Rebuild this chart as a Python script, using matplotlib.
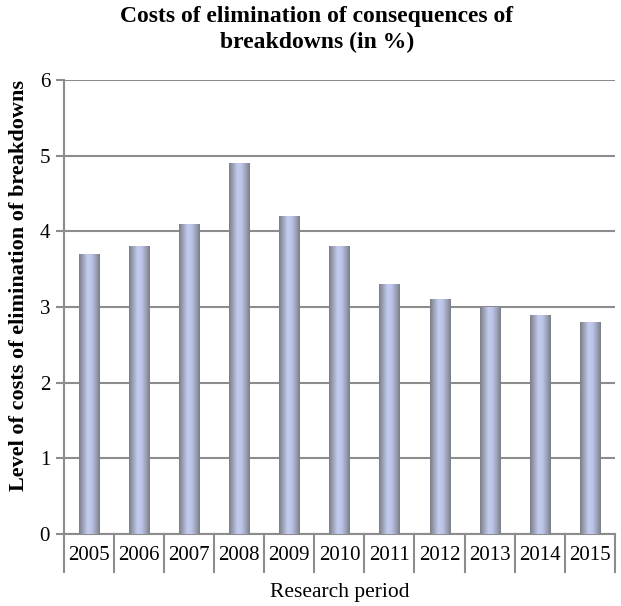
import numpy as np
import matplotlib
matplotlib.use("Agg")
import matplotlib.pyplot as plt
from matplotlib.colors import LinearSegmentedColormap
from matplotlib.transforms import blended_transform_factory

plt.rcParams['font.family'] = ['Liberation Serif', 'DejaVu Serif']

years = ['2005', '2006', '2007', '2008', '2009', '2010', '2011', '2012', '2013', '2014', '2015']
values = [3.7, 3.8, 4.1, 4.9, 4.2, 3.8, 3.3, 3.1, 3.0, 2.9, 2.8]

fig = plt.figure(figsize=(6.21, 6.06), dpi=100)
ax = fig.add_axes([0.103, 0.119, 0.887, 0.749])

x = np.arange(len(years))
bars = ax.bar(x, values, width=0.4, color='none', zorder=3)

# cylinder-like shading for each bar
cmap = LinearSegmentedColormap.from_list(
    'cyl', ['#7c7e86', '#9ea4bc', '#c3cbee', '#bcc4e8', '#9ea4bc', '#7c7e86'])
grad = np.linspace(0, 1, 64).reshape(1, -1)
for b in bars:
    x0, w, h = b.get_x(), b.get_width(), b.get_height()
    im = ax.imshow(grad, cmap=cmap, aspect='auto', extent=[x0, x0 + w, 0, h],
                   zorder=3, interpolation='bilinear')
    im.set_clip_path(b)

ax.set_xlim(-0.5, len(years) - 0.5)
ax.set_ylim(0, 6)
ax.set_yticks(range(0, 7))
ax.yaxis.grid(True, color='#8c8c8c', linewidth=1.5)
ax.set_axisbelow(True)

for s in ['top', 'right']:
    ax.spines[s].set_visible(False)
ax.spines['left'].set_color('#8c8c8c')
ax.spines['left'].set_linewidth(1.5)
ax.spines['bottom'].set_color('#8c8c8c')
ax.spines['bottom'].set_linewidth(1.5)

ax.tick_params(axis='y', length=6, width=1.5, color='#8c8c8c', labelsize=15, pad=4)
ax.set_xticks(x)
ax.set_xticklabels(years)
ax.tick_params(axis='x', length=0, labelsize=15, pad=9)

# boxes between category labels
trans = blended_transform_factory(ax.transData, ax.transAxes)
for b in np.arange(-0.5, len(years), 1.0):
    ax.plot([b, b], [0, -0.084], transform=trans, color='#8c8c8c',
            linewidth=1.5, clip_on=False)

ax.set_xlabel('Research period', fontsize=15.5, labelpad=13)
ax.set_ylabel('Level of costs of elimination of breakdowns', fontsize=16,
              fontweight='bold')
ax.yaxis.set_label_coords(-0.064, 0.548)
fig.suptitle('Costs of elimination of consequences of\nbreakdowns (in %)',
             fontsize=17, fontweight='bold', x=0.51, y=0.99, linespacing=1.3)

fig.savefig('out.png', dpi=100)
